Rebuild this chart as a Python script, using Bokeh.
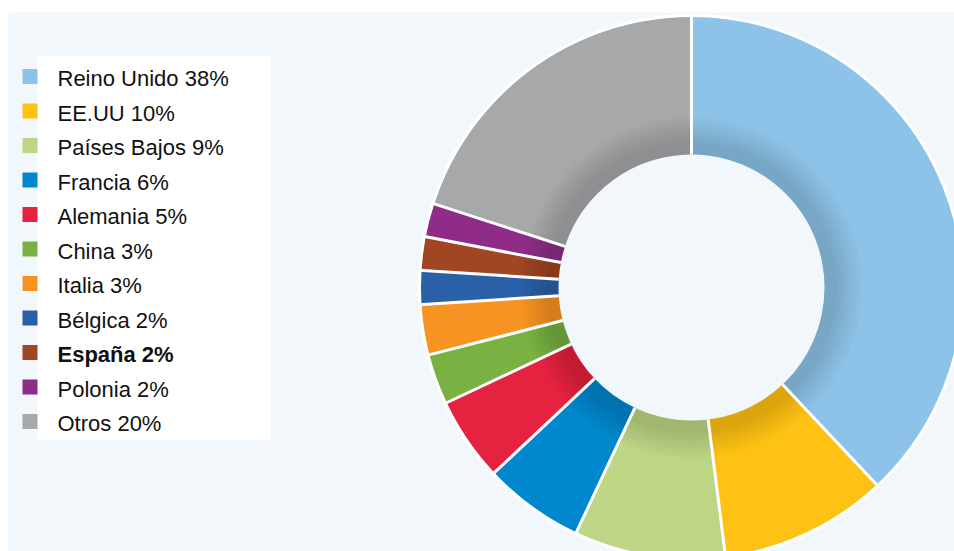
import numpy as np
from bokeh.plotting import figure
from bokeh.models import Range1d, ColumnDataSource
from bokeh.core.properties import value
from bokeh.embed import file_html
from bokeh.resources import INLINE

countries = ["Reino Unido", "EE.UU", "Países Bajos", "Francia", "Alemania", "China",
             "Italia", "Bélgica", "España", "Polonia", "Otros"]
shares = [38, 10, 9, 6, 5, 3, 3, 2, 2, 2, 20]
colors = ["#8DC3E8", "#FEC214", "#BDD585", "#0087CD", "#E62241", "#79B143",
          "#F69322", "#2A60A8", "#A04622", "#8E2C87", "#A7A8AA"]
highlight = "España"

W, H = 954, 551
LEFT, TOP = 8, 12


def Y(py):
    return H - py


p = figure(width=W, height=H, output_backend="svg", toolbar_location=None,
           x_range=Range1d(LEFT, W), y_range=Range1d(0, H - TOP),
           min_border_left=LEFT, min_border_right=0, min_border_top=TOP, min_border_bottom=0)
p.axis.visible = False
p.grid.visible = False
p.outline_line_color = None
p.background_fill_color = "#F2F7FC"
p.border_fill_color = "white"

# donut
cx, cy = 691, Y(287)
r_out, r_in = 271, 133
total = float(sum(shares))
cum = np.cumsum(shares) / total
c0 = np.concatenate([[0.0], cum[:-1]])
start = np.pi / 2 - 2 * np.pi * cum
end = np.pi / 2 - 2 * np.pi * c0

src = ColumnDataSource(dict(start=start, end=end, color=colors, name=countries))
p.annular_wedge(x=cx, y=cy, inner_radius=r_in, outer_radius=r_out,
                start_angle="start", end_angle="end", fill_color="color",
                line_color=None, source=src)

# inner shadow
for r in [146, 150, 154, 158, 162, 166, 170]:
    p.annulus(x=cx, y=cy, inner_radius=r_in, outer_radius=r,
              fill_color="black", fill_alpha=0.02, line_color=None)

# separators
ang = np.pi / 2 - 2 * np.pi * c0
p.segment(x0=cx + r_in * np.cos(ang), y0=cy + r_in * np.sin(ang),
          x1=cx + (r_out + 2) * np.cos(ang), y1=cy + (r_out + 2) * np.sin(ang),
          line_color="white", line_width=3)
p.circle(x=cx, y=cy, radius=r_out + 1, fill_color=None, line_color="white", line_width=3)

# legend
p.quad(left=37, right=270, top=Y(55), bottom=Y(440), fill_color="white", line_color=None)
n = len(countries)
rows = [Y(78 + i * 34.5) for i in range(n)]
labels = [f"{c} {s}%" for c, s in zip(countries, shares)]
p.rect(x=29.5, y=[r + 2 for r in rows], width=15, height=15, fill_color=colors,
       line_color=None)
normal = [i for i in range(n) if countries[i] != highlight]
bold = [i for i in range(n) if countries[i] == highlight]
p.text(x=57, y=[rows[i] for i in normal], text=[labels[i] for i in normal],
       text_font=value("Liberation Sans"), text_font_size="22px",
       text_baseline="middle", text_color="#111111")
p.text(x=57, y=[rows[i] for i in bold], text=[labels[i] for i in bold],
       text_font=value("Liberation Sans"), text_font_size="22px", text_font_style="bold",
       text_baseline="middle", text_color="#111111")

open("out.html", "w").write(file_html(p, INLINE))
